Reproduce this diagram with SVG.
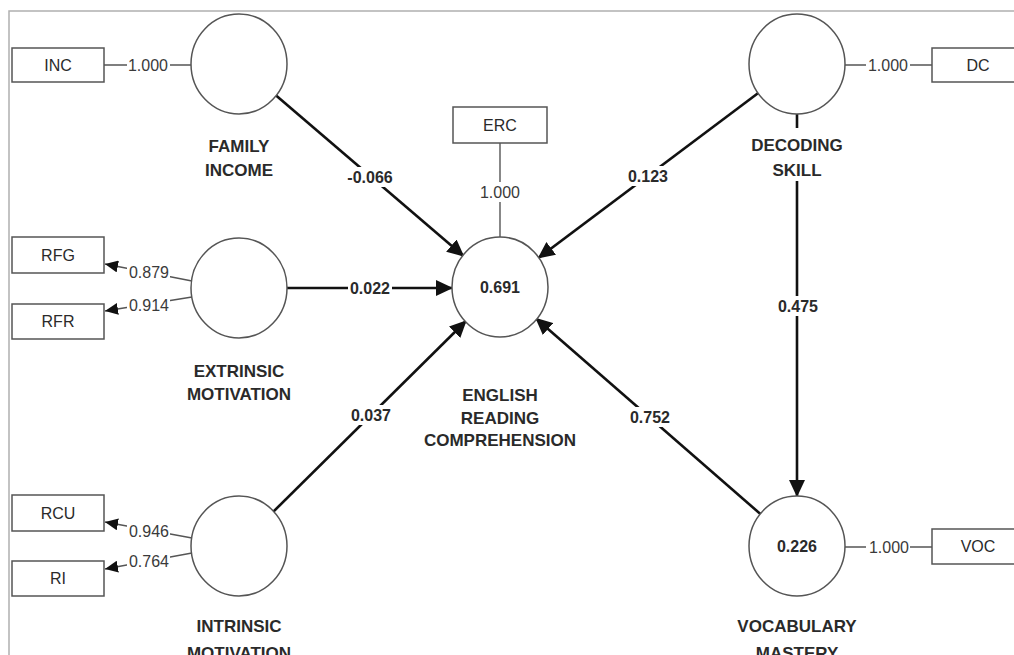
<svg xmlns="http://www.w3.org/2000/svg" width="1014" height="655" viewBox="0 0 1014 655">
<style>
.bg{fill:#fff}
.frame{stroke:#b0b0b0;stroke-width:1.5;fill:none}
.lv{fill:#fff;stroke:#555;stroke-width:1.5}
.mv{fill:#fff;stroke:#555;stroke-width:1.5}
.path{stroke:#111;stroke-width:2.6;fill:none}
.load{stroke:#555;stroke-width:1.4;fill:none}
.name{font-family:"Liberation Sans",Arial,sans-serif;font-size:17px;font-weight:bold;fill:#2a2a2a;text-anchor:middle}
.box{font-family:"Liberation Sans",Arial,sans-serif;font-size:16px;fill:#2a2a2a;text-anchor:middle}
.ld{font-family:"Liberation Sans",Arial,sans-serif;font-size:16px;fill:#3a3a3a;text-anchor:middle}
.pc{font-family:"Liberation Sans",Arial,sans-serif;font-size:16px;font-weight:bold;fill:#2a2a2a;text-anchor:middle}
.r2{font-family:"Liberation Sans",Arial,sans-serif;font-size:16px;font-weight:bold;fill:#2a2a2a;text-anchor:middle}
.wb{fill:#fff}
</style>
<defs>
<marker id="big" markerUnits="userSpaceOnUse" markerWidth="18" markerHeight="16" refX="16" refY="8" orient="auto">
<path d="M0,0 L17,8 L0,16 z" fill="#111"/>
</marker>
<marker id="small" markerUnits="userSpaceOnUse" markerWidth="14" markerHeight="12" refX="13" refY="6" orient="auto">
<path d="M0,0 L13,6 L0,12 z" fill="#111"/>
</marker>
</defs>
<rect class="bg" x="0" y="0" width="1014" height="655"/>
<path class="frame" d="M9,655 L9,11 L1014,11"/>

<g id="connectors">
<line class="path" x1="275.5" y1="95" x2="463.5" y2="256" marker-end="url(#big)"/>
<line class="path" x1="287" y1="288" x2="452" y2="288" marker-end="url(#big)"/>
<line class="path" x1="273" y1="512" x2="466" y2="321" marker-end="url(#big)"/>
<line class="path" x1="758.6" y1="92.8" x2="538.4" y2="258" marker-end="url(#big)"/>
<line class="path" x1="761" y1="514.5" x2="536" y2="318.5" marker-end="url(#big)"/>
<line class="path" x1="797" y1="114" x2="797" y2="496" marker-end="url(#big)"/>
<line class="load" x1="500" y1="143" x2="500" y2="237"/>
<line class="load" x1="104" y1="65" x2="191" y2="65"/>
<line class="load" x1="845" y1="65" x2="932" y2="65"/>
<line class="load" x1="845" y1="547" x2="932" y2="547"/>
<line class="load" x1="192" y1="281" x2="105" y2="264" marker-end="url(#small)"/>
<line class="load" x1="192" y1="297" x2="105" y2="311" marker-end="url(#small)"/>
<line class="load" x1="192" y1="538" x2="105" y2="522" marker-end="url(#small)"/>
<line class="load" x1="192" y1="553" x2="105" y2="569" marker-end="url(#small)"/>
<g id="edge-labels">
<rect class="wb" x="346" y="167" width="48" height="20"/><text class="pc" x="370" y="183">-0.066</text>
<rect class="wb" x="348" y="278" width="44" height="20"/><text class="pc" x="370" y="294">0.022</text>
<rect class="wb" x="349" y="405" width="44" height="20"/><text class="pc" x="371" y="421">0.037</text>
<rect class="wb" x="626" y="166" width="44" height="20"/><text class="pc" x="648" y="182">0.123</text>
<rect class="wb" x="628" y="407" width="44" height="20"/><text class="pc" x="650" y="423">0.752</text>
<rect class="wb" x="776" y="296" width="44" height="20"/><text class="pc" x="798" y="312">0.475</text>
<rect class="wb" x="480" y="182" width="40" height="20"/><text class="ld" x="500" y="198">1.000</text>
<rect class="wb" x="127" y="55" width="43" height="20"/><text class="ld" x="148" y="71">1.000</text>
<rect class="wb" x="866" y="55" width="44" height="20"/><text class="ld" x="888" y="71">1.000</text>
<rect class="wb" x="866" y="537" width="44" height="20"/><text class="ld" x="889" y="553">1.000</text>
<rect class="wb" x="127" y="263" width="43" height="18"/><text class="ld" x="149" y="278">0.879</text>
<rect class="wb" x="127" y="296" width="43" height="18"/><text class="ld" x="149" y="311">0.914</text>
<rect class="wb" x="127" y="522" width="43" height="18"/><text class="ld" x="149" y="537">0.946</text>
<rect class="wb" x="127" y="552" width="43" height="18"/><text class="ld" x="149" y="567">0.764</text>
</g>
</g>

<g id="family-income">
<ellipse class="lv" cx="239" cy="64" rx="48" ry="50"/>
<text class="name" x="239" y="152">FAMILY</text>
<text class="name" x="239" y="176">INCOME</text>
</g>
<g id="extrinsic-motivation">
<ellipse class="lv" cx="239" cy="288" rx="48" ry="50"/>
<text class="name" x="239" y="377">EXTRINSIC</text>
<text class="name" x="239" y="400">MOTIVATION</text>
</g>
<g id="intrinsic-motivation">
<ellipse class="lv" cx="239" cy="546" rx="48" ry="50"/>
<text class="name" x="239" y="632">INTRINSIC</text>
<text class="name" x="239" y="659">MOTIVATION</text>
</g>
<g id="english-reading-comprehension">
<ellipse class="lv" cx="500" cy="287" rx="48" ry="50"/>
<text class="r2" x="500" y="293">0.691</text>
<text class="name" x="500" y="401">ENGLISH</text>
<text class="name" x="500" y="424">READING</text>
<text class="name" x="500" y="446">COMPREHENSION</text>
</g>
<g id="decoding-skill">
<ellipse class="lv" cx="797" cy="64" rx="48" ry="50"/>
<rect class="wb" x="745" y="128" width="104" height="53"/>
<text class="name" x="797" y="151">DECODING</text>
<text class="name" x="797" y="176">SKILL</text>
</g>
<g id="vocabulary-mastery">
<ellipse class="lv" cx="797" cy="546" rx="48" ry="50"/>
<text class="r2" x="797" y="552">0.226</text>
<text class="name" x="797" y="632">VOCABULARY</text>
<text class="name" x="797" y="659">MASTERY</text>
</g>

<g id="INC"><rect class="mv" x="12" y="48" width="92" height="34"/><text class="box" x="58" y="71">INC</text></g>
<g id="RFG"><rect class="mv" x="12" y="237" width="92" height="36"/><text class="box" x="58" y="261">RFG</text></g>
<g id="RFR"><rect class="mv" x="12" y="304" width="92" height="35"/><text class="box" x="58" y="327">RFR</text></g>
<g id="RCU"><rect class="mv" x="12" y="495" width="92" height="36"/><text class="box" x="58" y="519">RCU</text></g>
<g id="RI"><rect class="mv" x="12" y="561" width="92" height="35"/><text class="box" x="58" y="584">RI</text></g>
<g id="ERC"><rect class="mv" x="453" y="107" width="94" height="36"/><text class="box" x="500" y="131">ERC</text></g>
<g id="DC"><rect class="mv" x="932" y="48" width="92" height="34"/><text class="box" x="978" y="71">DC</text></g>
<g id="VOC"><rect class="mv" x="932" y="529" width="92" height="35"/><text class="box" x="978" y="552">VOC</text></g>
</svg>
